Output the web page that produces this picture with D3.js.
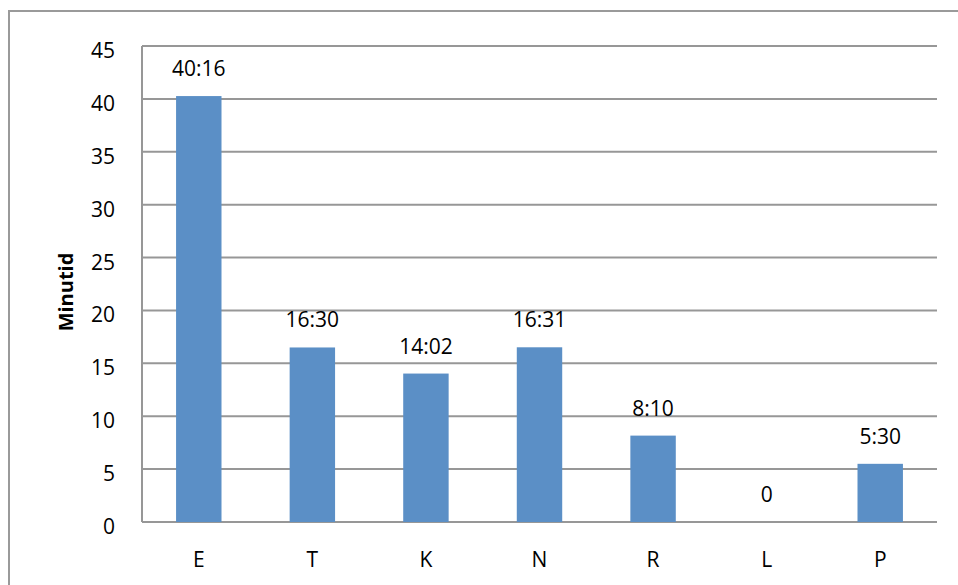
<!DOCTYPE html>
<html>
<head>
<meta charset="utf-8">
<script src="https://cdn.jsdelivr.net/npm/d3@7"></script>
<style>
  html, body { margin: 0; padding: 0; background: #fff; }
  svg { display: block; font-family: "Open Sans", "Noto Sans", sans-serif; }
</style>
</head>
<body>
<svg id="chart" width="958" height="585"></svg>
<script>
// Categories and durations (minutes, with the m:ss labels shown above bars)
const categories = ["E", "T", "K", "N", "R", "L", "P"];
const minutes = [40 + 16/60, 16.5, 14 + 2/60, 16 + 31/60, 8 + 10/60, 0, 5.5];
const valueLabels = ["40:16", "16:30", "14:02", "16:31", "8:10", "0", "5:30"];
const yTicks = [0, 5, 10, 15, 20, 25, 30, 35, 40, 45];
const yTitle = "Minutid";

const svg = d3.select("#chart");
const W = 958, H = 585;
const plot = { left: 142, right: 937, top: 46, bottom: 522 };

// Outer chart frame (continues past right and bottom edges)
svg.append("rect")
  .attr("x", 9).attr("y", 11)
  .attr("width", W + 20).attr("height", H + 20)
  .attr("fill", "#fff")
  .attr("stroke", "#9a9a9a").attr("stroke-width", 2);

const x = d3.scaleBand()
  .domain(categories)
  .range([plot.left, plot.right])
  .paddingInner(0.6).paddingOuter(0.3);

const y = d3.scaleLinear().domain([0, 45]).range([plot.bottom, plot.top]);

// Horizontal gridlines
svg.append("g")
  .selectAll("line")
  .data(yTicks)
  .join("line")
  .attr("x1", plot.left).attr("x2", plot.right)
  .attr("y1", d => y(d)).attr("y2", d => y(d))
  .attr("stroke", "#979797").attr("stroke-width", 2);

// Left axis line
svg.append("line")
  .attr("x1", plot.left).attr("x2", plot.left)
  .attr("y1", plot.top).attr("y2", plot.bottom)
  .attr("stroke", "#979797").attr("stroke-width", 2);

// Y tick labels
svg.append("g")
  .selectAll("text")
  .data(yTicks)
  .join("text")
  .attr("x", 115)
  .attr("y", d => y(d) + 4)
  .attr("text-anchor", "end")
  .attr("dominant-baseline", "central")
  .attr("font-size", 21)
  .attr("fill", "#000")
  .text(d => d);

// Bars
svg.append("g")
  .selectAll("rect")
  .data(minutes)
  .join("rect")
  .attr("x", (d, i) => x(categories[i]))
  .attr("width", x.bandwidth())
  .attr("y", d => y(d))
  .attr("height", d => y(0) - y(d))
  .attr("fill", "#5b8fc6");

// Value labels
svg.append("g")
  .selectAll("text")
  .data(minutes)
  .join("text")
  .attr("x", (d, i) => x(categories[i]) + x.bandwidth() / 2)
  .attr("y", d => y(d) - 20)
  .attr("text-anchor", "middle")
  .attr("font-size", 21)
  .attr("fill", "#000")
  .text((d, i) => valueLabels[i]);

// Category labels
svg.append("g")
  .selectAll("text")
  .data(categories)
  .join("text")
  .attr("x", d => x(d) + x.bandwidth() / 2)
  .attr("y", 567)
  .attr("text-anchor", "middle")
  .attr("font-size", 21)
  .attr("fill", "#000")
  .text(d => d);

// Y axis title
svg.append("text")
  .attr("transform", "translate(73,292) rotate(-90)")
  .attr("text-anchor", "middle")
  .attr("font-size", 20)
  .attr("font-weight", "bold")
  .attr("fill", "#000")
  .text(yTitle);
</script>
</body>
</html>
